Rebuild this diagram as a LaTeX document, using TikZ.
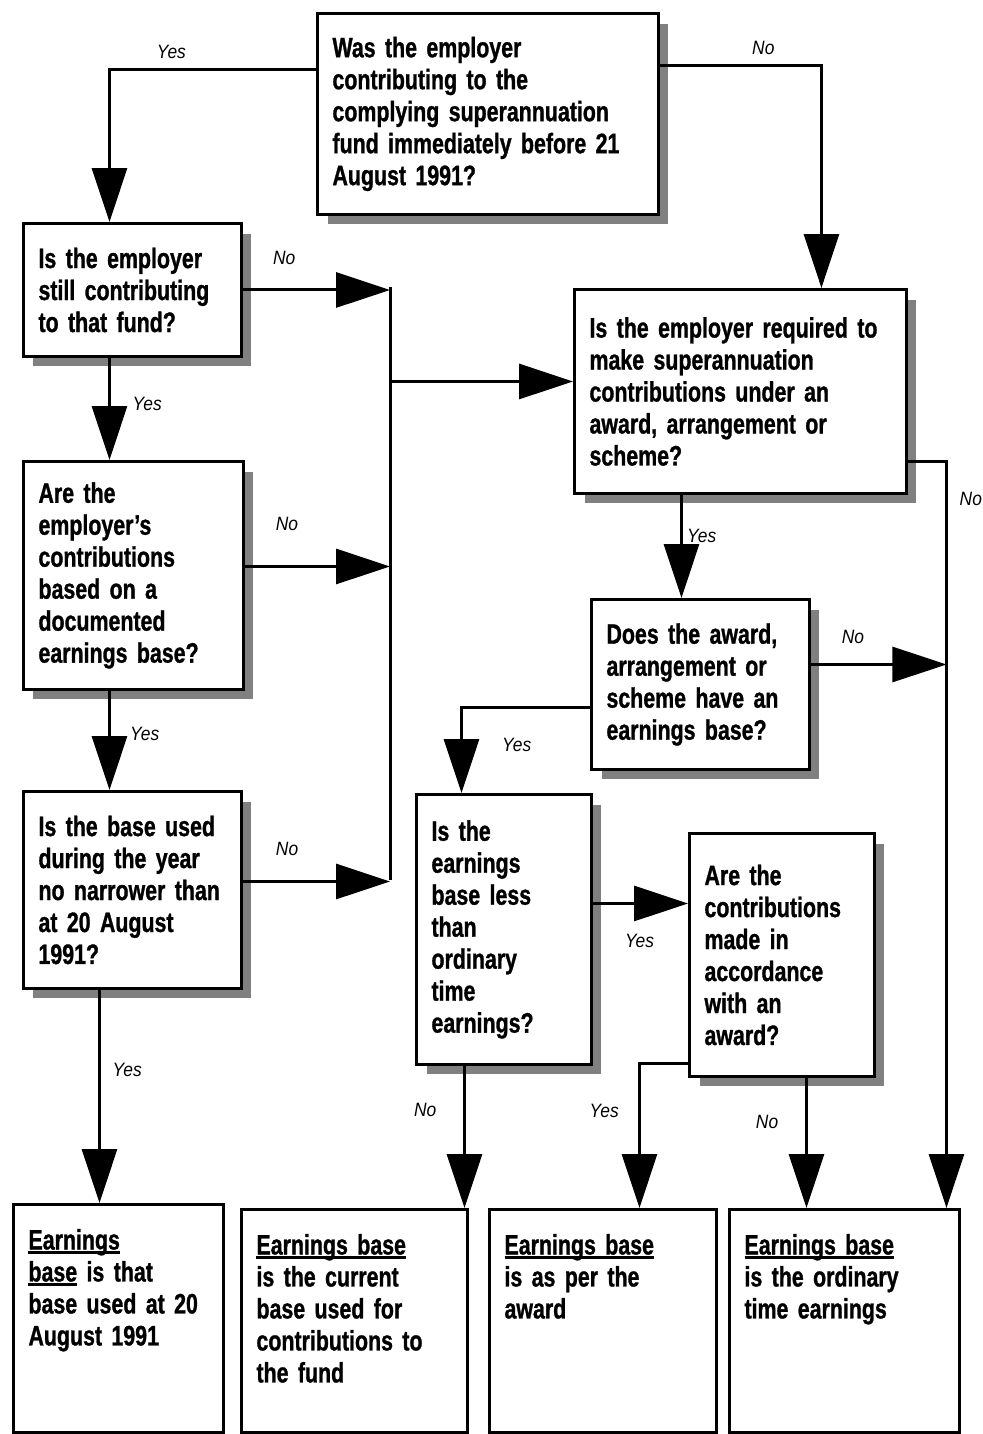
\documentclass[tikz,border=0pt]{standalone}
\usepackage{fontspec}
\setmainfont{Liberation Sans}[FakeStretch=0.76, BoldFeatures={FakeBold=1}]
\newfontfamily\answerfont{Liberation Sans}[FakeStretch=0.9]
\newcommand\ebu[1]{\leavevmode\setbox0\hbox{#1}\rlap{\rule[-2.6pt]{\wd0}{1.5pt}}\box0\relax}
\usetikzlibrary{arrows.meta, shadows}

\begin{document}
\begin{tikzpicture}[x=0.02cm, y=-0.02cm, line width=.06cm,
  >={Triangle[length=1.08cm, width=.7cm]},
  question/.style={draw, fill=white, align=left, inner xsep=.3cm, anchor=north west,
    font=\fontsize{16pt}{18.2pt}\selectfont\bfseries,
    drop shadow={shadow xshift=.2cm, shadow yshift=-.2cm, fill=black!50, opacity=1}},
  result/.style={draw, align=left, inner sep=.3cm, text height=.6cm, anchor=north west,
    font=\fontsize{16pt}{18.2pt}\selectfont\bfseries},
  answer/.style={font=\answerfont\itshape\fontsize{11pt}{13pt}\selectfont, inner sep=1pt}]
\useasboundingbox (0,0) rectangle (983,1434);

\node[question, text width=6.22cm, minimum height=4.02cm] (was) at (316,12) {Was the employer\\ contributing to the\\ complying superannuation\\ fund immediately before 21\\ August 1991?};
\node[question, text width=3.76cm, minimum height=2.66cm] (still) at (22,222) {Is the employer\\ still contributing\\ to that fund?};
\node[question, text width=3.8cm, minimum height=4.56cm] (based) at (22,460) {Are the\\ employer's\\ contributions\\ based on a\\ documented\\ earnings base?};
\node[question, text width=3.76cm, minimum height=3.94cm] (narrow) at (22,790) {Is the base used\\ during the year\\ no narrower than\\ at 20 August\\ 1991?};
\node[question, text width=6.04cm, minimum height=4.08cm] (required) at (573,288) {Is the employer required to\\ make superannuation\\ contributions under an\\ award, arrangement or\\ scheme?};
\node[question, text width=3.76cm, minimum height=3.4cm] (award) at (590,598) {Does the award,\\ arrangement or\\ scheme have an\\ earnings base?};
\node[question, text width=2.9cm, minimum height=5.4cm] (lessthan) at (415,793) {Is the\\ earnings\\ base less\\ than\\ ordinary\\ time\\ earnings?};
\node[question, text width=3.1cm, minimum height=4.86cm] (accord) at (688,832) {Are the\\ contributions\\ made in\\ accordance\\ with an\\ award?};

\node[result, text width=3.6cm, text depth=3.36cm] (base1991) at (12,1203) {\ebu{Earnings}\\ \ebu{base} is that\\ base used at 20\\ August 1991};
\node[result, text width=3.92cm, text depth=3.26cm] (current) at (240,1208) {\ebu{Earnings base}\\ is the current\\ base used for\\ contributions to\\ the fund};
\node[result, text width=3.94cm, text depth=3.26cm] (perawar) at (488,1208) {\ebu{Earnings base}\\ is as per the\\ award};
\node[result, text width=4cm, text depth=3.26cm] (ordinary) at (728,1208) {\ebu{Earnings base}\\ is the ordinary\\ time earnings};

\coordinate (jtop) at (390,287);
\coordinate (jbot) at (390,880);
\coordinate (jright) at ([xshift=2.04cm]ordinary.north);

\draw[->] ([yshift=.89cm]was.west) -| ([xshift=-.46cm]still.north) node[answer, above=.15cm, pos=.35] (wasyes) {Yes};
\draw[->] ([yshift=.97cm]was.east) -| ([xshift=1.62cm]required.north) node[answer, above=.15cm, pos=.32] (wasno) {No};

\draw (jtop) -- (jbot);
\draw[->] ([yshift=.2cm]required.west -| jtop) -- ([yshift=.2cm]required.west);
\draw[->] (still.east) -- (still.east -| jtop) node[answer, above=.45cm, pos=.28] (stillno) {No};
\draw[->] ([yshift=.18cm]based.east) -- ([yshift=.18cm]based.east -| jtop) node[answer, above=.65cm, pos=.29] (basedno) {No};
\draw[->] ([yshift=.17cm]narrow.east) -- ([yshift=.17cm]narrow.east -| jtop) node[answer, above=.45cm, pos=.3] (narrowno) {No};

\draw[->] ([xshift=-.46cm]still.south) -- ([xshift=-.46cm]still.south |- based.north) node[answer, right=.4cm, pos=.45] (stillyes) {Yes};
\draw[->] ([xshift=-.48cm]based.south) -- ([xshift=-.48cm]based.south |- narrow.north) node[answer, right=.35cm, pos=.43] (basedyes) {Yes};
\draw[->] ([xshift=-.66cm]narrow.south) -- ([xshift=-.66cm]narrow.south |- base1991.north) node[answer, right=.2cm, pos=.375] (narrowyes) {Yes};

\draw[->] ([xshift=-1.18cm]required.south) -- ([xshift=-1.18cm]required.south |- award.north) node[answer, right=.05cm, pos=.4] (requiredyes) {Yes};
\draw[->] ([yshift=-1.4cm]required.east) -| (jright) node[answer, right=.2cm, pos=.525] (requiredno) {No};
\draw[->] ([yshift=.4cm]award.east) -- ([yshift=.4cm]award.east -| jright) node[answer, above=.35cm, pos=.31] (awardno) {No};
\draw[->] ([yshift=-.46cm]award.west) -| ([xshift=-.85cm]lessthan.north) node[answer, right=.75cm, pos=.72] (awardyes) {Yes};

\draw[->] ([yshift=.52cm]lessthan.east) -- ([yshift=.52cm]lessthan.east -| accord.west) node[answer, below=.55cm, pos=.49] (lessyes) {Yes};
\draw[->] ([xshift=-.79cm]lessthan.south) -- ([xshift=-.79cm]lessthan.south |- current.north) node[answer, left=.5cm, pos=.31] (lessno) {No};
\draw[->] ([yshift=-2.17cm]accord.west) -| ([xshift=.73cm]perawar.north) node[answer, left=.35cm, pos=.665] (accordyes) {Yes};
\draw[->] ([xshift=.49cm]accord.south) -- ([xshift=.49cm]accord.south |- ordinary.north) node[answer, left=.5cm, pos=.34] (accordno) {No};
\end{tikzpicture}
\end{document}
